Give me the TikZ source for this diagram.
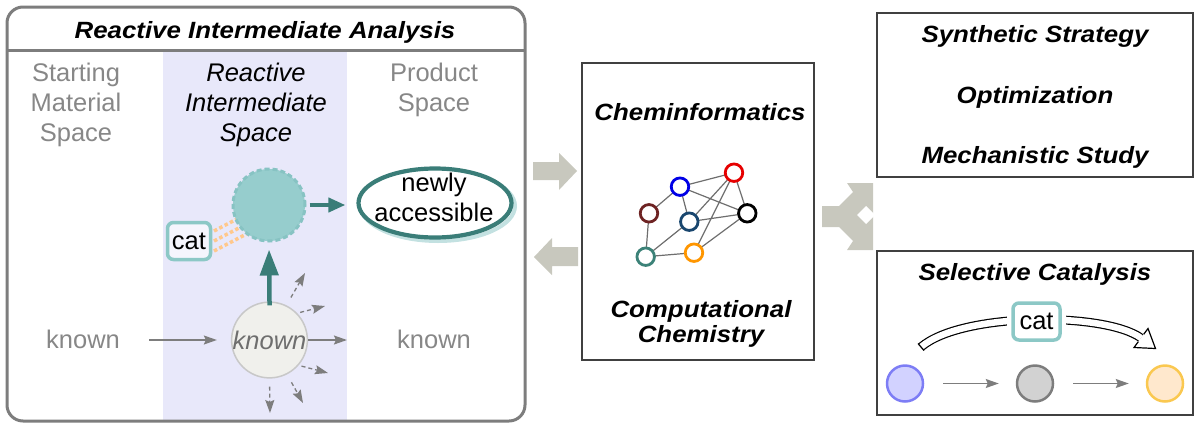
\documentclass[tikz,border=0pt]{standalone}
\usepackage{fontspec}
\setmainfont{Liberation Sans}
\newfontfamily\hdfont[FakeStretch=1.1]{Liberation Sans}
\usetikzlibrary{arrows.meta,shapes.geometric}
\definecolor{boxgray}{RGB}{125,125,125}
\definecolor{txtgray}{RGB}{135,135,135}
\definecolor{colbg}{RGB}{232,232,250}
\definecolor{frameline}{RGB}{64,64,64}
\definecolor{blockgray}{RGB}{200,200,190}
\definecolor{tealdark}{RGB}{58,125,120}
\definecolor{tealfill}{RGB}{150,205,205}
\definecolor{tealdash}{RGB}{135,195,195}
\definecolor{catteal}{RGB}{140,200,198}
\definecolor{shadowteal}{RGB}{195,225,225}
\definecolor{dotorange}{RGB}{255,200,140}
\definecolor{knfill}{RGB}{240,240,236}
\definecolor{knline}{RGB}{200,200,200}
\definecolor{kntext}{RGB}{110,110,110}
\definecolor{arrgray}{RGB}{125,125,125}
\definecolor{netgray}{RGB}{110,110,110}
\definecolor{netred}{RGB}{230,0,0}
\definecolor{netblue}{RGB}{0,0,230}
\definecolor{netdarkred}{RGB}{110,35,35}
\definecolor{netnavy}{RGB}{25,70,110}
\definecolor{netteal}{RGB}{60,130,120}
\definecolor{netorange}{RGB}{255,150,0}
\definecolor{cblue}{RGB}{210,210,255}
\definecolor{cbluel}{RGB}{125,125,245}
\definecolor{cgray}{RGB}{210,210,210}
\definecolor{cgrayl}{RGB}{125,125,125}
\definecolor{corange}{RGB}{255,232,205}
\definecolor{corangel}{RGB}{250,200,80}
\begin{document}
\begin{tikzpicture}[x=1pt,y=-1pt,
  reg/.style={font=\fontsize{25.5}{30}\selectfont, anchor=base, inner sep=0pt},
  greg/.style={reg, text=txtgray},
  ireg/.style={reg, font=\fontsize{25.5}{30}\selectfont\itshape},
  hdtext/.style={font=\hdfont\fontsize{23.5}{25}\selectfont\bfseries\itshape, anchor=base, inner sep=0pt},
  frame/.style={draw=frameline, line width=1.5pt, inner sep=0pt},
  garrow/.style={draw=arrgray, line width=1.3pt, -{Stealth[length=13pt,width=9pt,inset=2pt]}},
  gdash/.style={garrow, dash pattern=on 4pt off 3pt},
  netnode/.style={circle, draw=#1, line width=2.8pt, fill=white, minimum size=17.5pt, inner sep=0pt},
  netedge/.style={draw=netgray, line width=1.2pt},
  catbox/.style={draw=catteal, line width=3.5pt, rounded corners=6pt, minimum width=#1, minimum height=37pt, inner sep=0pt, font=\fontsize{25.5}{30}\selectfont},
  cnode/.style 2 args={circle, draw=#2, fill=#1, line width=2.5pt, minimum size=36pt, inner sep=0pt}
]
\useasboundingbox (0,0) rectangle (1200,429);

% ---------- left panel ----------
\fill[colbg] (163,50) rectangle (347,420);
\draw[boxgray, line width=3pt, rounded corners=16pt] (7,7) rectangle (525,421);
\draw[boxgray, line width=3pt] (7,50) -- (525,50);
\node[hdtext] (title) at (265,38) {Reactive Intermediate Analysis};

\node[greg] (sm1) at (76,81) {Starting};
\node[greg] (sm2) at (76,111) {Material};
\node[greg] (sm3) at (76,141) {Space};
\node[ireg] (ri1) at (256,81) {Reactive};
\node[ireg] (ri2) at (256,111) {Intermediate};
\node[ireg] (ri3) at (256,141) {Space};
\node[greg] (ps1) at (434,81) {Product};
\node[greg] (ps2) at (434,111) {Space};

% cat + dotted interactions
\node[catbox=43pt, fill=white!55!colbg] (cat1) at (189,241) {cat};
\foreach \dy in {10,0,-10}
  \draw[dotorange, line width=3.5pt, dash pattern=on 3.5pt off 2.5pt]
    ([xshift=1.75pt,yshift=\dy pt]cat1.east) -- ++(42,-22);

% reactive intermediate
\node[circle, fill=tealfill, draw=tealdash, line width=3pt, dash pattern=on 5pt off 3pt,
      minimum size=72pt, inner sep=0pt] (ri) at (269,205) {};

% newly accessible ellipse
\draw[shadowteal, line width=4pt] (438,206) ellipse [x radius=77, y radius=35];
\node[ellipse, draw=tealdark, line width=4.2pt, fill=white, minimum width=153pt,
      minimum height=69pt, inner sep=0pt] (ell) at (435,203) {};
\node[reg] (nw1) at (434,191) {newly};
\node[reg] (nw2) at (434,221) {accessible};

% known row
\node[circle, fill=knfill, draw=knline, line width=1.5pt, minimum size=75pt, inner sep=0pt,
      text=kntext, font=\fontsize{25.5}{30}\selectfont\itshape] (kn) at (269.5,340) {known};
\node[greg] (kl) at (83,348) {known};
\node[greg] (kr) at (434,348) {known};

\draw[garrow, shorten <=29pt, shorten >=14pt] (kl.east |- kn.west) -- (kn.west);
\draw[garrow, shorten >=50pt] (kn.east) -- (kn.east -| kr.west);

\coordinate (r1) at (305,273);
\coordinate (r2) at (325,306);
\coordinate (r3) at (328,373);
\coordinate (r4) at (303,403);
\coordinate (r5) at (270,413);
\draw[gdash, shorten <=9pt] (kn.64) -- (r1);
\draw[gdash, shorten <=3pt] (kn.44) -- (r2);
\draw[gdash, shorten <=3pt] (kn.-41) -- (r3);
\draw[gdash, shorten <=9pt] (kn.-63) -- (r4);
\draw[gdash, shorten <=8pt] (kn.-90) -- (r5);

% teal arrows
\draw[draw=tealdark, line width=4.5pt, -{Triangle[length=26pt,width=18pt]},
      shorten <=-4pt, shorten >=7pt] (kn.north) -- (ri.south);
\draw[draw=tealdark, line width=4pt, -{Triangle[length=17pt,width=14pt]},
      shorten <=3pt, shorten >=11pt] (ri.east) -- (ri.east -| ell.west);

% ---------- block arrows ----------
\fill[blockgray] (533,162) -- (559,162) -- (559,153) -- (577,171) -- (559,190) -- (559,180) -- (533,180) -- cycle;
\fill[blockgray] (578,247) -- (552,247) -- (552,238) -- (534,257) -- (552,275) -- (552,266) -- (578,266) -- cycle;
\fill[blockgray] (822,206) -- (839,206) -- (853,192) -- (847,183) -- (873,183) -- (873,250)
   -- (847,250) -- (853,241) -- (839,227) -- (822,227) -- cycle;
\fill[white] (857,215) -- (866,206) -- (875,215) -- (866,224) -- cycle;

% ---------- centre panel ----------
\node[frame, minimum width=232pt, minimum height=297pt] (cbox) at (698,211.5) {};
\node[hdtext] (chem) at (700,120) {Cheminformatics};
\node[hdtext] (comp1) at (701,317) {Computational};
\node[hdtext] (comp2) at (701,342) {Chemistry};

\coordinate (pr) at (734,172.7);
\coordinate (pb) at (680,186.7);
\coordinate (pdr) at (649,213.3);
\coordinate (pn) at (689.3,221.7);
\coordinate (pk) at (747.3,213.3);
\coordinate (pt) at (645.7,256.7);
\coordinate (po) at (694,252.7);
\draw[netedge] (pb) -- (pr) (pb) -- (pdr) (pb) -- (pn) (pb) -- (pk)
  (pr) -- (pk) (pr) -- (pn) (pr) -- (po) (pdr) -- (pt) (pn) -- (pt)
  (pn) -- (pk) (pt) -- (po) (po) -- (pk);
\node[netnode=netred] (nr) at (pr) {};
\node[netnode=netblue] (nb) at (pb) {};
\node[netnode=netdarkred] (ndr) at (pdr) {};
\node[netnode=netnavy] (nn) at (pn) {};
\node[netnode=black] (nk) at (pk) {};
\node[netnode=netteal] (nt) at (pt) {};
\node[netnode=netorange] (no) at (po) {};

% ---------- right panels ----------
\node[frame, minimum width=316pt, minimum height=164pt] (tbox) at (1035,95) {};
\node[hdtext] (syn) at (1035,42) {Synthetic Strategy};
\node[hdtext] (opt) at (1035,103) {Optimization};
\node[hdtext] (mech) at (1035,163) {Mechanistic Study};

\node[frame, minimum width=316pt, minimum height=164pt] (bbox) at (1035,333) {};
\node[hdtext] (sel) at (1035,280) {Selective Catalysis};

% hollow curved arrow
\coordinate (hs) at (921,347);
\coordinate (hb) at (1141,338);
\draw[double=white, double distance=6.5pt, line width=1.2pt]
  (hs) .. controls (962,312) and (1105,312) .. (hb);
\draw[line width=1.2pt] (924,350.5) -- (918,343.5);
\fill[white] (1134,347.5) -- (1155.5,348.5) -- (1148,328.5) -- cycle;
\draw[line width=1.2pt, line join=miter] (1138.3,341.7) -- (1134,347.5) -- (1155.5,348.5)
  -- (1148,328.5) -- (1143.7,334.3);

\node[catbox=47pt, fill=white, preaction={draw=white, line width=12pt}] (cat2) at (1036.5,321.5) {cat};

\node[cnode={cblue}{cbluel}] (c1) at (905,383.5) {};
\node[cnode={cgray}{cgrayl}] (c2) at (1035,383.5) {};
\node[cnode={corange}{corangel}] (c3) at (1165,383.5) {};
\draw[garrow, shorten <=19pt, shorten >=17pt] (c1) -- (c2);
\draw[garrow, shorten <=19pt, shorten >=17pt] (c2) -- (c3);
\end{tikzpicture}
\end{document}
